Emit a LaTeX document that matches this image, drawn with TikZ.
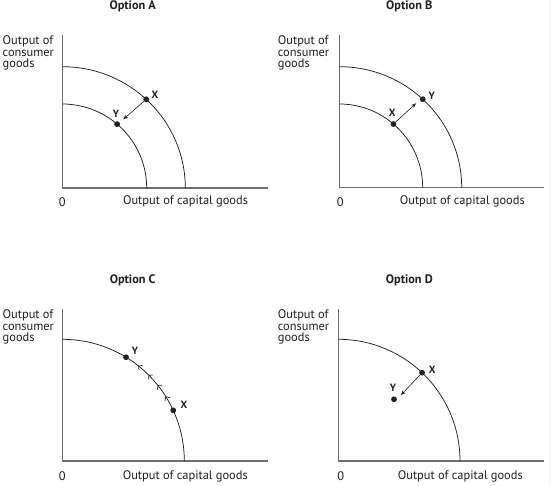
\documentclass[tikz,border=0pt]{standalone}
\usepackage{fontspec}
\setmainfont{PT Sans}
\usetikzlibrary{arrows.meta,decorations.markings}
\definecolor{ink}{HTML}{231F20}
\definecolor{axisgray}{HTML}{6D6E71}
\definecolor{faintedge}{HTML}{F3F5F8}
\begin{document}
\begin{tikzpicture}[x=1pt,y=1pt,
  axisline/.style={draw=axisgray, line width=1.3pt},
  ppf/.style={draw=ink, line width=0.75pt},
  dot/.style={circle, fill=ink, inner sep=0pt, minimum size=5.8pt},
  ptlabel/.style={font=\bfseries\fontsize{10.5}{10.5}\selectfont, text=ink, inner sep=0pt},
  paneltitle/.style={font=\bfseries\fontsize{12.3}{12.3}\selectfont, text=ink, inner sep=0pt},
  ylab/.style={font=\fontsize{12.4}{11.7}\selectfont, align=left, anchor=north west, inner sep=0pt, text=ink},
  xlab/.style={font=\fontsize{12.4}{11.7}\selectfont, text=ink, inner sep=0pt},
  move/.style={-{Stealth[length=4.8pt,width=3.8pt]}, draw=ink, line width=0.6pt},
  chevtip/.style={},
  chev/.style={postaction={decorate}, decoration={markings,
    mark=at position 0.428 with {\arrowreversed[ink,line width=0.7pt]{Straight Barb[length=2.8pt,width=6pt]}},
    mark=at position 0.5 with {\arrowreversed[ink,line width=0.7pt]{Straight Barb[length=2.8pt,width=6pt]}},
    mark=at position 0.572 with {\arrowreversed[ink,line width=0.7pt]{Straight Barb[length=2.8pt,width=6pt]}},
    mark=at position 0.644 with {\arrowreversed[ink,line width=0.7pt]{Straight Barb[length=2.8pt,width=6pt]}}}}
]
\useasboundingbox (0,0) rectangle (551,485);
\fill[white] (0,0) rectangle (551,485);
\fill[faintedge] (548.5,0) rectangle (551,485);

% titles
\node[paneltitle] (tA) at (132.7,478.3) {Option A};
\node[paneltitle] (tB) at (409.3,478.3) {Option B};
\node[paneltitle] (tC) at (132.7,204.3) {Option C};
\node[paneltitle] (tD) at (409.3,204.3) {Option D};

% axis labels
\node[ylab] (yA) at (2.5,449.5) {Output of\\consumer\\goods};
\node[ylab] (yB) at (277.7,449.5) {Output of\\consumer\\goods};
\node[ylab] (yC) at (2.5,175.5) {Output of\\consumer\\goods};
\node[ylab] (yD) at (277.7,175.5) {Output of\\consumer\\goods};
\node[xlab] (zA) at (62.3,283.3) {0};
\node[xlab] (zB) at (340.3,283.3) {0};
\node[xlab] (zC) at (62.3,9) {0};
\node[xlab] (zD) at (340.7,9) {0};
\node[xlab] (xA) at (185.5,283.3) {Output of capital goods};
\node[xlab] (xB) at (462.3,283.3) {Output of capital goods};
\node[xlab] (xC) at (185.3,9) {Output of capital goods};
\node[xlab] (xD) at (460.3,9) {Output of capital goods};

% ---------- Option A ----------
\begin{scope}[shift={(62.3,297)}]
  \draw[axisline] (0,153) -- (0,0) -- (205.7,0);
  \draw[ppf] (0,121.3) arc[start angle=90,end angle=0,x radius=123,y radius=121.3];
  \draw[ppf] (0,84) arc[start angle=90,end angle=0,x radius=84.4,y radius=84];
  \node[dot] (aX) at (47:123 and 121.3) {};
  \node[dot] (aY) at (49.5:84.4 and 84) {};
  \coordinate (aT) at (61,68.7);
  \draw[move] (aX) -- (aT);
  \node[ptlabel] (aXl) at (92.7,93) {X};
  \node[ptlabel] (aYl) at (53.7,73.7) {Y};
\end{scope}

% ---------- Option B ----------
\begin{scope}[shift={(339.3,297.3)}]
  \draw[axisline] (0,153) -- (0,0) -- (204.7,0);
  \draw[ppf] (0,121) arc[start angle=90,end angle=0,x radius=122.4,y radius=121];
  \draw[ppf] (0,83.7) arc[start angle=90,end angle=0,x radius=83.4,y radius=83.7];
  \node[dot] (bX) at (49.5:83.4 and 83.7) {};
  \node[dot] (bY) at (47:122.4 and 121) {};
  \coordinate (bT) at (76.7,84.4);
  \draw[move] (bX) -- (bT);
  \node[ptlabel] (bXl) at (53,75) {X};
  \node[ptlabel] (bYl) at (92.4,92) {Y};
\end{scope}

% ---------- Option C ----------
\begin{scope}[shift={(62.3,24)}]
  \draw[axisline] (0,151.7) -- (0,0) -- (205.7,0);
  \draw[ppf,chev] (0,121.7) arc[start angle=90,end angle=0,x radius=122,y radius=121.7];
  \node[dot] (cY) at (58.5:122 and 121.7) {};
  \node[dot] (cX) at (24.6:122 and 121.7) {};
  \node[ptlabel] (cYl) at (72.7,110) {Y};
  \node[ptlabel] (cXl) at (121.7,56) {X};
\end{scope}

% ---------- Option D ----------
\begin{scope}[shift={(338.3,24)}]
  \draw[axisline] (0,151.7) -- (0,0) -- (205.7,0);
  \draw[ppf] (0,121.7) arc[start angle=90,end angle=0,x radius=121.7,y radius=121.7];
  \node[dot] (dX) at (46.5:121.7 and 121.7) {};
  \node[dot] (dY) at (55.7,61.7) {};
  \coordinate (dT) at (62.7,66);
  \draw[move] (dX) -- (dT);
  \node[ptlabel] (dXl) at (94,91) {X};
  \node[ptlabel] (dYl) at (54.7,73.3) {Y};
\end{scope}
\end{tikzpicture}
\end{document}
